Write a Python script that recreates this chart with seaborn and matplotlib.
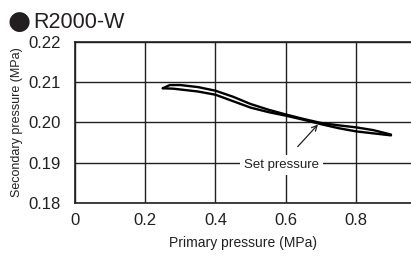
import matplotlib
matplotlib.use("Agg")
import matplotlib.pyplot as plt
import seaborn as sns
import pandas as pd

# curva de histerese (leitura aproximada do grafico)
primary_up = [0.25, 0.27, 0.30, 0.35, 0.40, 0.45, 0.50, 0.55, 0.60, 0.65, 0.70, 0.75, 0.80, 0.85, 0.90]
secondary_up = [0.2085, 0.2093, 0.2093, 0.2088, 0.2079, 0.2064, 0.2046, 0.2032, 0.2020, 0.2009, 0.1999, 0.1993, 0.1988, 0.1981, 0.1970]
primary_down = [0.25, 0.28, 0.35, 0.40, 0.45, 0.50, 0.55, 0.60, 0.65, 0.70, 0.75, 0.80, 0.85, 0.90]
secondary_down = [0.2085, 0.2084, 0.2077, 0.2069, 0.2053, 0.2037, 0.2026, 0.2017, 0.2007, 0.1996, 0.1986, 0.1978, 0.1973, 0.1968]

x_ticks = [0, 0.2, 0.4, 0.6, 0.8]
x_labels = ["0", "0.2", "0.4", "0.6", "0.8"]
y_ticks = [0.18, 0.19, 0.20, 0.21, 0.22]
y_labels = ["0.18", "0.19", "0.20", "0.21", "0.22"]

title = "R2000-W"
note = "Set pressure"
note_xy = (0.692, 0.1995)
note_text_xy = (0.587, 0.1895)

sns.set_style("white")
plt.rcParams["font.family"] = ["Liberation Sans", "DejaVu Sans"]

df = pd.concat([
    pd.DataFrame({"primary": primary_up, "secondary": secondary_up, "branch": "up"}),
    pd.DataFrame({"primary": primary_down, "secondary": secondary_down, "branch": "down"}),
])

fig = plt.figure(figsize=(4.11, 2.64), dpi=100)
ax = fig.add_axes([0.1825, 0.231, 0.8175, 0.610])

for b in ["up", "down"]:
    sns.lineplot(data=df[df["branch"] == b], x="primary", y="secondary", sort=False,
                 color="black", linewidth=1.7, ax=ax, zorder=3)

ax.set_xlim(0, 0.957)
ax.set_ylim(0.18, 0.22)
ax.set_xticks(x_ticks)
ax.set_xticklabels(x_labels)
ax.set_yticks(y_ticks)
ax.set_yticklabels(y_labels)
ax.tick_params(length=0, labelsize=12, colors="#231f20")
ax.tick_params(axis="y", pad=10)
ax.tick_params(axis="x", pad=7)
ax.grid(True, color="#231f20", linewidth=1.0)
for side in ["left", "bottom", "top"]:
    ax.spines[side].set_color("#231f20")
    ax.spines[side].set_linewidth(1.2)
ax.spines["right"].set_visible(False)

ax.set_xlabel("Primary pressure (MPa)", fontsize=10, color="#231f20", labelpad=6)
ax.set_ylabel("Secondary pressure (MPa)", fontsize=9, color="#231f20", labelpad=4)

ax.annotate(note, xy=note_xy, xytext=note_text_xy, ha="center", va="center",
            fontsize=9.5, color="#231f20",
            bbox=dict(boxstyle="square,pad=0.3", fc="white", ec="none"),
            arrowprops=dict(arrowstyle="->", color="#231f20", lw=0.9,
                            shrinkA=8, shrinkB=0), zorder=4)

fig.text(0.018, 0.915, "\u25cf", fontsize=19, color="#231f20", va="center", ha="left",
         family=["DejaVu Sans"])
fig.text(0.08, 0.915, title, fontsize=15.5, color="#231f20", va="center", ha="left")

fig.savefig("out.png", dpi=100)
